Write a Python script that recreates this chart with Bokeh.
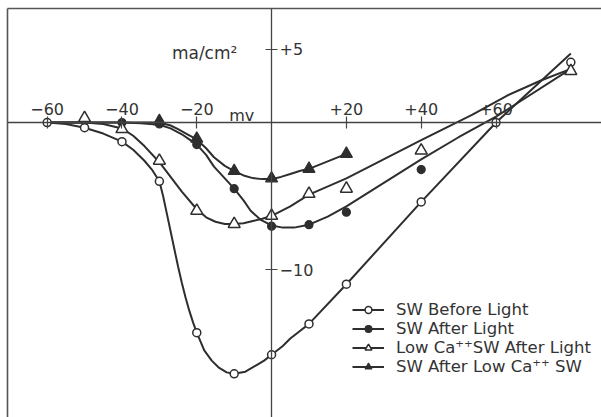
from bokeh.plotting import figure
from bokeh.models import LinearAxis, FixedTicker, Legend, LegendItem, Label, Range1d
from bokeh.embed import file_html
from bokeh.resources import INLINE

# ---------------- data (mV, ma/cm^2) ----------------
# measured points
before_mv = [-60, -50, -40, -30, -20, -10, 0, 10, 20, 40, 60, 80]
before_ma = [0, -0.35, -1.3, -4.0, -14.3, -17.1, -15.8, -13.7, -11.0, -5.4, 0, 4.1]

after_mv = [-40, -30, -20, -10, 0, 10, 20, 40]
after_ma = [0, -0.1, -1.5, -4.5, -7.05, -6.95, -6.1, -3.2]

lowca_mv = [-50, -40, -30, -20, -10, 0, 10, 20, 40, 80]
lowca_ma = [0.3, -0.45, -2.6, -6.0, -6.9, -6.35, -4.85, -4.5, -1.9, 3.5]

postlow_mv = [-30, -20, -10, 0, 10, 20]
postlow_ma = [0.1, -1.1, -3.3, -3.8, -3.15, -2.13]

# hand-drawn fitted curves
before_curve_mv = [-60, -55, -50, -45, -40, -37, -34, -32, -30, -29, -28, -27, -26, -25, -24,
                   -23, -22, -21, -20, -18, -16, -14, -12, -10, -7, -4, -2, 0, 3, 5, 7.5, 10,
                   20, 40, 60, 80]
before_curve_ma = [0, -0.1, -0.35, -0.75, -1.3, -1.85, -2.6, -3.2, -4.0, -5.0, -6.2, -7.4, -8.6,
                   -9.8, -10.9, -11.9, -12.8, -13.6, -14.3, -15.5, -16.2, -16.7, -17.0, -17.1,
                   -16.95, -16.5, -16.2, -15.8, -15.2, -14.7, -14.2, -13.7, -11.0, -5.4, 0, 4.7]

after_curve_mv = [-60, -50, -40, -35, -30, -27, -24, -22, -20, -17.5, -15.4, -12.5, -10, -7.5,
                  -5.6, -3, 0, 3, 6, 10, 15, 20, 30, 40, 50, 60, 64, 80]
after_curve_ma = [0, 0, 0, -0.05, -0.15, -0.4, -0.8, -1.15, -1.5, -2.2, -3.0, -3.8, -4.5, -5.3,
                  -6.0, -6.6, -7.0, -7.15, -7.15, -6.95, -6.4, -5.7, -4.1, -2.5, -1.0, 0.4, 1.04,
                  3.65]

lowca_curve_mv = [-60, -50, -45, -40, -37, -34, -30, -27, -24, -20, -17.5, -15, -12.5, -10, -7.5,
                  -5, -2.5, 0, 5, 10, 20, 40, 53.7, 63, 72, 80]
lowca_curve_ma = [0, 0, -0.1, -0.4, -0.9, -1.6, -2.7, -3.7, -4.7, -5.9, -6.45, -6.75, -6.9, -6.9,
                  -6.85, -6.7, -6.55, -6.35, -5.7, -4.9, -3.8, -1.2, 0.54, 1.84, 2.86, 3.65]

postlow_curve_mv = [-60, -40, -30, -27, -25, -22.5, -20, -17.5, -15.4, -12.5, -10, -7.5, -5, -2.5,
                    0, 2.5, 5, 7.5, 10, 20]
postlow_curve_ma = [0, 0, 0, -0.2, -0.45, -0.8, -1.15, -1.75, -2.36, -2.95, -3.3, -3.6, -3.78,
                    -3.85, -3.85, -3.7, -3.5, -3.3, -3.15, -2.13]

x_ticks = [-60, -40, -20, 20, 40, 60]
x_tick_labels = ["\u221260", "\u221240", "\u221220", "+20", "+40", "+60"]
y_ticks = [5, -10]
y_tick_labels = ["+5", "\u221210"]

series_labels = ["SW Before Light", "SW After Light",
                 "Low Ca\u207a\u207aSW After Light", "SW After Low Ca\u207a\u207a SW"]

INK = "#2e2e2e"
FONT = "DejaVu Sans"

p = figure(width=601, height=417, x_range=Range1d(-70.6, 88.2), y_range=Range1d(-20.07, 7.76),
           output_backend="svg", toolbar_location=None,
           x_axis_location=None, y_axis_location=None,
           min_border_left=7, min_border_top=8, min_border_right=0, min_border_bottom=0)
p.grid.visible = False
p.outline_line_color = None
p.background_fill_color = "white"
p.border_fill_color = "white"

# frame lines (left and top only)
for side in ("left", "above"):
    fa = LinearAxis(ticker=FixedTicker(ticks=[]), major_tick_in=0, major_tick_out=0,
                    minor_tick_in=0, minor_tick_out=0, major_label_text_font_size="0px",
                    axis_line_color="#555", axis_line_width=1.6)
    p.add_layout(fa, side)

# central crossing axes
xax = LinearAxis(fixed_location=0, ticker=FixedTicker(ticks=x_ticks),
                 major_label_overrides=dict(zip(x_ticks, x_tick_labels)),
                 axis_line_color="#444", axis_line_width=1.3,
                 major_tick_in=6, major_tick_out=6, major_tick_line_color="#444",
                 major_tick_line_width=1.2,
                 minor_tick_line_color=None,
                 major_label_text_font=FONT, major_label_text_font_size="16px",
                 major_label_text_color="#333", major_label_standoff=2)
p.add_layout(xax, "above")

yax = LinearAxis(fixed_location=0, ticker=FixedTicker(ticks=y_ticks),
                 major_label_overrides=dict(zip(y_ticks, y_tick_labels)),
                 axis_line_color="#444", axis_line_width=1.3,
                 major_tick_in=6, major_tick_out=6, major_tick_line_color="#444",
                 major_tick_line_width=1.2,
                 minor_tick_line_color=None,
                 major_label_text_font=FONT, major_label_text_font_size="16px",
                 major_label_text_color="#333", major_label_standoff=2)
p.add_layout(yax, "right")

# curves
l1 = p.line(before_curve_mv, before_curve_ma, line_color=INK, line_width=2)
l2 = p.line(after_curve_mv, after_curve_ma, line_color=INK, line_width=2)
l3 = p.line(lowca_curve_mv, lowca_curve_ma, line_color=INK, line_width=2)
l4 = p.line(postlow_curve_mv, postlow_curve_ma, line_color=INK, line_width=2)

# markers
m1 = p.scatter(before_mv, before_ma, marker="circle", size=8, fill_color="white",
               line_color=INK, line_width=1.5)
m2 = p.scatter(after_mv, after_ma, marker="circle", size=8, fill_color=INK,
               line_color=INK, line_width=1.2)
m3 = p.scatter(lowca_mv, lowca_ma, marker="triangle", size=12, fill_color="white",
               line_color=INK, line_width=1.5)
m4 = p.scatter(postlow_mv, postlow_ma, marker="triangle", size=12, fill_color=INK,
               line_color=INK, line_width=1.2)

p.add_layout(Label(x=-8, y=0.48, text="mv", text_align="center", text_baseline="alphabetic",
                   text_font=FONT, text_font_size="16px", text_color="#333"))
p.add_layout(Label(x=-17.9, y=4.7, text="ma/cm\u00b2", text_align="center",
                   text_baseline="alphabetic", text_font=FONT, text_font_size="17px",
                   text_color="#333"))

legend = Legend(items=[LegendItem(label=series_labels[0], renderers=[l1, m1]),
                       LegendItem(label=series_labels[1], renderers=[l2, m2]),
                       LegendItem(label=series_labels[2], renderers=[l3, m3]),
                       LegendItem(label=series_labels[3], renderers=[l4, m4])],
                location=(345, 41), orientation="vertical",
                border_line_color=None, background_fill_alpha=0,
                padding=0, margin=0, spacing=0,
                glyph_width=32, glyph_height=17, label_height=17, label_standoff=12,
                label_text_font=FONT, label_text_font_size="16.5px", label_text_color="#333")
p.add_layout(legend, "center")

open("out.html", "w").write(file_html(p, INLINE))
